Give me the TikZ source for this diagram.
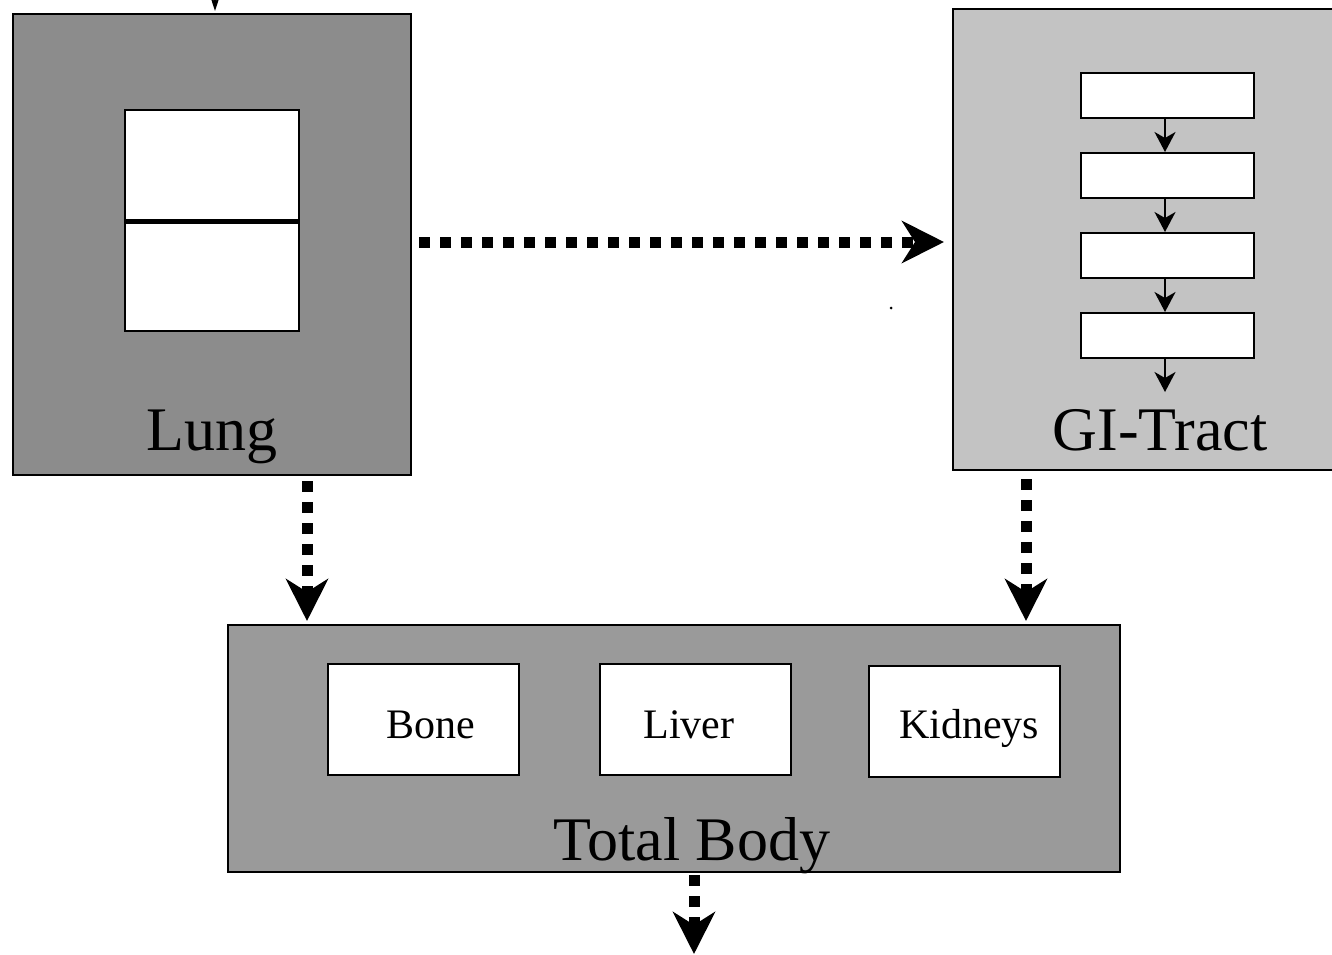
\documentclass[tikz,border=0pt]{standalone}
\usepackage{fontspec}
\setmainfont{Liberation Serif}
\usetikzlibrary{arrows.meta}
\definecolor{lunggray}{HTML}{8C8C8C}
\definecolor{gigray}{HTML}{C3C3C3}
\definecolor{bodygray}{HTML}{9A9A9A}
\begin{document}
\begin{tikzpicture}[x=1pt,y=-1pt,
  compartment/.style={draw=black,line width=2pt,inner sep=0pt},
  subbox/.style={draw=black,fill=white,line width=2pt,inner sep=0pt},
  biglabel/.style={font=\fontsize{62}{62}\selectfont,inner sep=0pt,anchor=base},
  smalllabel/.style={font=\fontsize{42}{42}\selectfont,inner sep=0pt,anchor=base},
  dotarrow/.style={line width=11pt,dash pattern=on 11pt off 10pt,
    -{Stealth[length=42pt,width=42pt,inset=13pt]}},
  thinarrow/.style={line width=2pt,-{Stealth[length=20pt,width=21pt,inset=6pt]}}]
\useasboundingbox (0,0) rectangle (1332,954);
\clip (0,0) rectangle (1332,954);
% Lung
\node[compartment,fill=lunggray,minimum width=398pt,minimum height=461pt] (lung) at (212,244.5) {};
\node[subbox,minimum width=174pt,minimum height=110pt] (lungA) at (212,165) {};
\node[subbox,minimum width=174pt,minimum height=111pt] (lungB) at (212,275.5) {};
\draw[line width=5pt] (lungA.south west) -- (lungA.south east);
\node[biglabel] (lunglbl) at (212,450) {Lung};
% GI tract
\node[compartment,fill=gigray,minimum width=392pt,minimum height=461pt] (gi) at (1149,239.5) {};
\node[subbox,minimum width=173pt,minimum height=45pt] (g1) at (1167.5,95.5) {};
\node[subbox,minimum width=173pt,minimum height=45pt] (g2) at (1167.5,175.5) {};
\node[subbox,minimum width=173pt,minimum height=45pt] (g3) at (1167.5,255.5) {};
\node[subbox,minimum width=173pt,minimum height=45pt] (g4) at (1167.5,335.5) {};
\coordinate (gout) at (1165,392);
\node[biglabel] (gilbl) at (1160,450) {GI-Tract};
\draw[thinarrow] ([xshift=-2.5pt]g1.south) -- ([xshift=-2.5pt]g2.north);
\draw[thinarrow] ([xshift=-2.5pt]g2.south) -- ([xshift=-2.5pt]g3.north);
\draw[thinarrow] ([xshift=-2.5pt]g3.south) -- ([xshift=-2.5pt]g4.north);
\draw[thinarrow] ([xshift=-2.5pt]g4.south) -- (gout);
% Total body
\node[compartment,fill=bodygray,minimum width=892pt,minimum height=247pt] (tb) at (674,748.5) {};
\node[subbox,minimum width=191pt,minimum height=111pt] (bone) at (423.5,719.5) {};
\node[subbox,minimum width=191pt,minimum height=111pt] (liver) at (695.5,719.5) {};
\node[subbox,minimum width=191pt,minimum height=111pt] (kidneys) at (964.5,721) {};
\node[smalllabel] (bonelbl) at (431,738) {Bone};
\node[smalllabel] (liverlbl) at (689,738) {Liver};
\node[smalllabel] (kidneyslbl) at (969,738) {Kidneys};
% connectors
\coordinate (lungin) at (215,-30);
\draw[line width=2pt,-{Stealth[length=14pt,width=9pt]}] (lungin) -- ([xshift=3pt,yshift=2pt]lung.north);
\draw[dotarrow,shorten <=7pt,shorten >=8pt] ([yshift=2.5pt]lung.east) -- ([yshift=-2.5pt]gi.west);
\draw[dotarrow,shorten <=5pt,shorten >=3pt] ([xshift=95pt]lung.south) -- ([xshift=-367pt]tb.north);
\draw[dotarrow,shorten <=8pt,shorten >=3pt] ([xshift=-123pt]gi.south) -- ([xshift=352pt]tb.north);
\coordinate (tbout) at (694,954);
\draw[dotarrow,shorten <=2pt] ([xshift=20pt]tb.south) -- (tbout);
\node[biglabel] (tblbl) at (692,860) {Total Body};
\fill (891,308) circle (1.5pt);
\end{tikzpicture}
\end{document}
